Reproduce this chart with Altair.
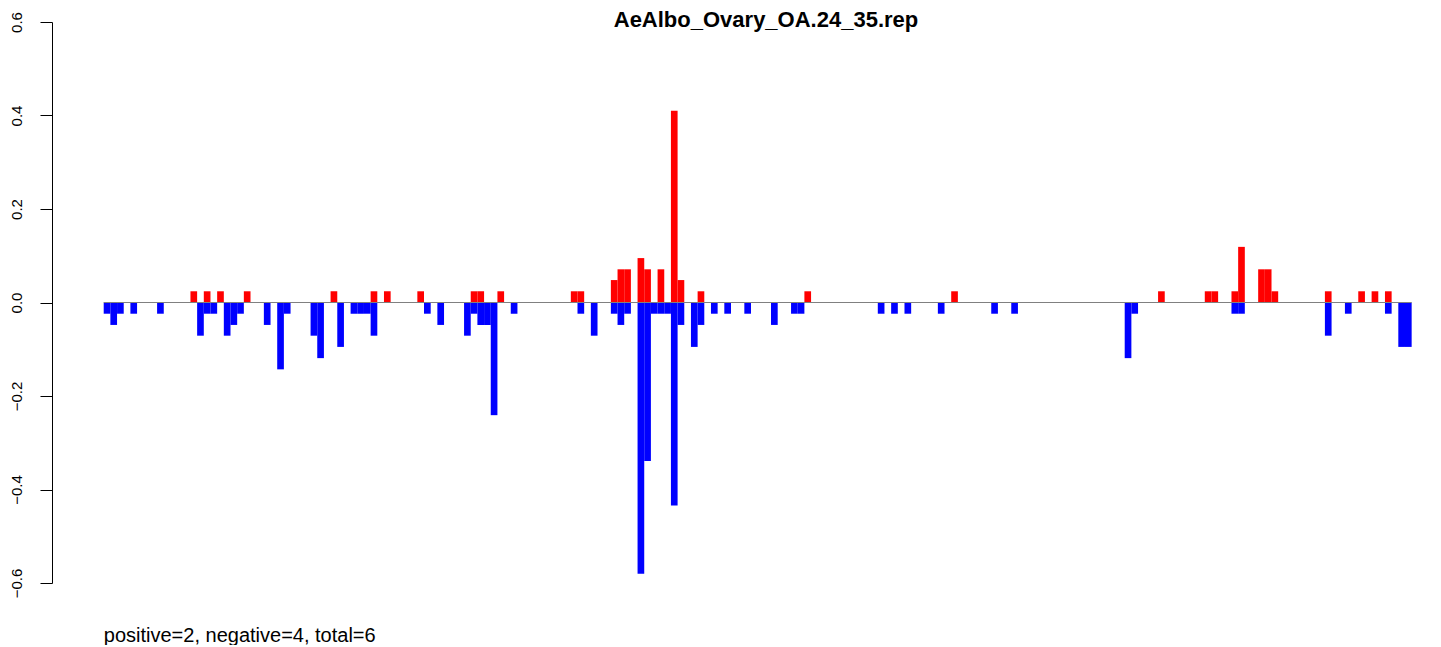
import altair as alt
import pandas as pd

N_BARS = 196
TITLE = "AeAlbo_Ovary_OA.24_35.rep"
NOTE = "positive=2, negative=4, total=6"

pos_index = [13, 15, 17, 21, 34, 40, 42, 47, 55, 56, 59, 70, 71, 76, 77, 78, 80, 81,
             83, 85, 86, 89, 105, 127, 158, 165, 166, 169, 170, 173, 174, 175, 183,
             188, 190, 192]
pos_value = [0.024, 0.024, 0.024, 0.024, 0.024, 0.024, 0.024, 0.024, 0.024, 0.024,
             0.024, 0.024, 0.024, 0.048, 0.071, 0.071, 0.095, 0.071, 0.071, 0.41,
             0.048, 0.024, 0.024, 0.024, 0.024, 0.024, 0.024, 0.024, 0.119, 0.071,
             0.071, 0.024, 0.024, 0.024, 0.024, 0.024]

neg_index = [0, 1, 2, 4, 8, 14, 15, 16, 18, 19, 20, 24, 26, 27, 31, 32, 35, 37, 38,
             39, 40, 48, 50, 54, 55, 56, 57, 58, 61, 71, 73, 76, 77, 78, 80, 81, 82,
             83, 84, 85, 86, 88, 89, 91, 93, 96, 100, 103, 104, 116, 118, 120, 125,
             133, 136, 153, 154, 169, 170, 183, 186, 192, 194, 195]
neg_value = [-0.024, -0.048, -0.024, -0.024, -0.024, -0.071, -0.024, -0.024, -0.071,
             -0.048, -0.024, -0.048, -0.143, -0.024, -0.071, -0.119, -0.095, -0.024,
             -0.024, -0.024, -0.071, -0.024, -0.048, -0.071, -0.024, -0.048, -0.048,
             -0.241, -0.024, -0.024, -0.071, -0.024, -0.048, -0.024, -0.58, -0.339,
             -0.024, -0.024, -0.024, -0.434, -0.048, -0.095, -0.048, -0.024, -0.024,
             -0.024, -0.048, -0.024, -0.024, -0.024, -0.024, -0.024, -0.024, -0.024,
             -0.024, -0.119, -0.024, -0.024, -0.024, -0.071, -0.024, -0.024, -0.095,
             -0.095]

y_ticks = [-0.6, -0.4, -0.2, 0.0, 0.2, 0.4, 0.6]

df = pd.concat([
    pd.DataFrame({"i": pos_index, "v": pos_value, "sign": "positive"}),
    pd.DataFrame({"i": neg_index, "v": neg_value, "sign": "negative"}),
], ignore_index=True)
df["i2"] = df["i"] + 1

base_line = pd.DataFrame({"i": [0], "i2": [N_BARS], "v": [0.0]})
title_df = pd.DataFrame({"t": [TITLE]})

FONT = "Liberation Sans"

x_enc = alt.X(
    "i:Q",
    scale=alt.Scale(domain=[-7.748, 198.30], nice=False, zero=False),
    axis=alt.Axis(
        title=NOTE, domain=False, ticks=False, labels=False, grid=False,
        titleX=51.3, titleY=58, titleAlign="left", titleAnchor="start",
        titleBaseline="alphabetic", titleFont=FONT, titleFontSize=20,
        titleFontWeight="normal", titleColor="black",
    ),
)
y_enc = alt.Y(
    "v:Q",
    scale=alt.Scale(domain=[-0.6, 0.6], nice=False, zero=False),
    axis=alt.Axis(
        values=y_ticks, format=".1f", labelAngle=270, labelAlign="center",
        labelBaseline="alphabetic", labelPadding=19, ticks=True, domain=True,
        tickSize=12, tickColor="black", domainColor="black", tickWidth=1,
        domainWidth=1, labelFont=FONT, labelFontSize=15, labelColor="black",
        grid=False, title=None, labelOverlap=False, labelBound=False,
        labelFlush=False, zindex=2,
    ),
)

bars = alt.Chart(df).mark_bar(strokeWidth=0).encode(
    x=x_enc,
    x2="i2:Q",
    y=y_enc,
    y2=alt.datum(0),
    color=alt.Color(
        "sign:N",
        scale=alt.Scale(domain=["positive", "negative"], range=["#FF0000", "#0000FF"]),
        legend=None,
    ),
)

zero_rule = alt.Chart(base_line).mark_rule(color="#808080", strokeWidth=1).encode(
    x=x_enc, x2="i2:Q", y=y_enc
)

title_text = alt.Chart(title_df).mark_text(
    font=FONT, fontSize=22, fontWeight="bold", align="center",
    baseline="alphabetic", color="black",
).encode(text="t:N", x=alt.value(714), y=alt.value(5))

chart = alt.layer(bars, zero_rule, title_text).properties(
    width=1375,
    height=561,
    autosize=alt.AutoSizeParams(type="none"),
    padding={"left": 44, "top": 14, "right": 6, "bottom": 62},
    background="white",
).configure_view(strokeWidth=0, stroke="transparent")

chart.save("out.html", embed_options={"renderer": "svg", "actions": False})
